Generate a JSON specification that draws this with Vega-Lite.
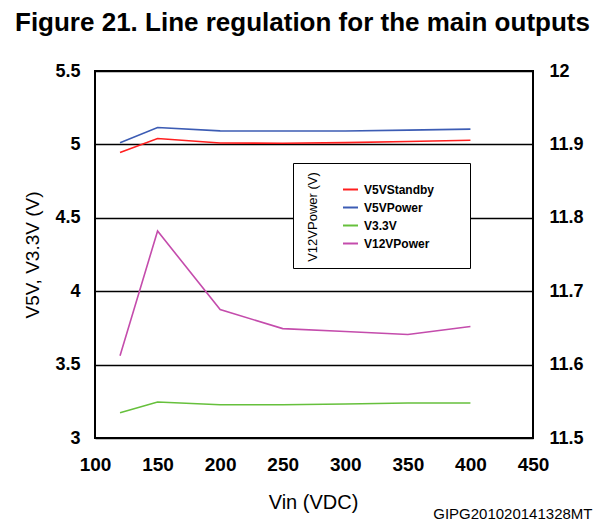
{
  "$schema": "https://vega.github.io/schema/vega-lite/v6.json",
  "width": 438,
  "height": 367,
  "autosize": "none",
  "padding": {"left": 95, "top": 71, "right": 82, "bottom": 94},
  "background": "white",
  "title": {
    "text": "Figure 21. Line regulation for the main outputs",
    "font": "Liberation Sans",
    "fontSize": 26,
    "fontWeight": "bold",
    "color": "black",
    "anchor": "start",
    "frame": "group",
    "baseline": "alphabetic",
    "dx": -80,
    "dy": 23,
    "offset": 28
  },
  "config": {
    "font": "Liberation Sans",
    "view": {"stroke": "black", "strokeWidth": 2},
    "axis": {"labelColor": "black", "titleColor": "black", "labelFont": "Liberation Sans", "titleFont": "Liberation Sans"}
  },
  "data": {
    "values": [
      {"Vin": 120, "series": "V5VStandby", "value": 4.945},
      {"Vin": 150, "series": "V5VStandby", "value": 5.04},
      {"Vin": 200, "series": "V5VStandby", "value": 5.01},
      {"Vin": 250, "series": "V5VStandby", "value": 5.008},
      {"Vin": 300, "series": "V5VStandby", "value": 5.012},
      {"Vin": 350, "series": "V5VStandby", "value": 5.02},
      {"Vin": 400, "series": "V5VStandby", "value": 5.028},
      {"Vin": 120, "series": "V5VPower", "value": 5.012},
      {"Vin": 150, "series": "V5VPower", "value": 5.115},
      {"Vin": 200, "series": "V5VPower", "value": 5.092},
      {"Vin": 250, "series": "V5VPower", "value": 5.091},
      {"Vin": 300, "series": "V5VPower", "value": 5.091},
      {"Vin": 350, "series": "V5VPower", "value": 5.097},
      {"Vin": 400, "series": "V5VPower", "value": 5.104},
      {"Vin": 120, "series": "V3.3V", "value": 3.172},
      {"Vin": 150, "series": "V3.3V", "value": 3.245},
      {"Vin": 200, "series": "V3.3V", "value": 3.227},
      {"Vin": 250, "series": "V3.3V", "value": 3.227},
      {"Vin": 300, "series": "V3.3V", "value": 3.232},
      {"Vin": 350, "series": "V3.3V", "value": 3.238},
      {"Vin": 400, "series": "V3.3V", "value": 3.238},
      {"Vin": 120, "series": "V12VPower", "value": 11.612},
      {"Vin": 150, "series": "V12VPower", "value": 11.782},
      {"Vin": 200, "series": "V12VPower", "value": 11.675},
      {"Vin": 250, "series": "V12VPower", "value": 11.649},
      {"Vin": 300, "series": "V12VPower", "value": 11.645},
      {"Vin": 350, "series": "V12VPower", "value": 11.641},
      {"Vin": 400, "series": "V12VPower", "value": 11.652}
    ]
  },
  "layer": [
    {
      "transform": [{"filter": {"field": "series", "oneOf": ["V5VStandby", "V5VPower", "V3.3V"]}}],
      "mark": {"type": "line", "strokeWidth": 1.6},
      "encoding": {
        "x": {
          "field": "Vin", "type": "quantitative",
          "scale": {"domain": [100, 450], "nice": false, "zero": false},
          "axis": {
            "values": [100, 150, 200, 250, 300, 350, 400, 450],
            "labelFontSize": 19, "labelFontWeight": "bold", "labelPadding": 17,
            "labelFlush": false, "labelOverlap": false,
            "ticks": false, "domain": false, "grid": false,
            "title": "Vin (VDC)", "titleFontSize": 20, "titleFontWeight": "normal",
            "titleX": 218, "titleY": 70, "titleAlign": "center", "titleBaseline": "alphabetic"
          }
        },
        "y": {
          "field": "value", "type": "quantitative",
          "scale": {"domain": [3, 5.5], "nice": false, "zero": false},
          "axis": {
            "values": [3, 3.5, 4, 4.5, 5, 5.5], "format": "~g",
            "grid": true, "gridColor": "black", "gridWidth": 1.5, "gridOpacity": 1,
            "ticks": false, "domain": false,
            "labelFontSize": 18, "labelFontWeight": "bold", "labelPadding": 15,
            "title": "V5V, V3.3V (V)", "titleFontSize": 19, "titleFontWeight": "normal",
            "titleAngle": 270, "titleX": -63, "titleY": 183.5, "titleAlign": "center", "titleBaseline": "middle"
          }
        },
        "color": {
          "field": "series", "type": "nominal",
          "scale": {"domain": ["V5VStandby", "V5VPower", "V3.3V", "V12VPower"], "range": ["#ff1f1f", "#3c5cb4", "#66c03c", "#c44cac"]},
          "legend": {
            "orient": "none", "legendX": 198, "legendY": 92,
            "strokeColor": "black", "fillColor": "white", "padding": 18,
            "title": "\u00a0", "titleOrient": "right", "titlePadding": 18, "titleFontSize": 8,
            "symbolType": "stroke", "symbolSize": 225, "symbolStrokeWidth": 2, "symbolOffset": 31,
            "labelFontSize": 12, "labelFontWeight": "bold", "labelFont": "Liberation Sans", "labelColor": "black",
            "labelOffset": 5, "rowPadding": 3, "zindex": 1
          }
        }
      }
    },
    {
      "transform": [{"filter": {"field": "series", "equal": "V12VPower"}}],
      "mark": {"type": "line", "strokeWidth": 1.6},
      "encoding": {
        "x": {
          "field": "Vin", "type": "quantitative",
          "scale": {"domain": [100, 450], "nice": false, "zero": false},
          "axis": {
            "orient": "bottom", "labels": false, "ticks": false, "domain": false, "grid": false,
            "title": "GIPG201020141328MT", "titleFontSize": 15, "titleFontWeight": "normal",
            "titleX": 497, "titleY": 80, "titleAlign": "right", "titleBaseline": "alphabetic", "titleAngle": 0
          }
        },
        "y": {
          "field": "value", "type": "quantitative",
          "scale": {"domain": [11.5, 12], "nice": false, "zero": false},
          "axis": {
            "orient": "right",
            "values": [11.5, 11.6, 11.7, 11.8, 11.9, 12], "format": "~g",
            "grid": false, "ticks": false, "domain": false,
            "labelFontSize": 18, "labelFontWeight": "bold", "labelPadding": 16,
            "title": "V12VPower (V)", "titleFontSize": 13, "titleFontWeight": "normal",
            "titleAngle": 270, "titleX": -221, "titleY": 145.5, "titleAlign": "center", "titleBaseline": "middle",
            "zindex": 2
          }
        },
        "color": {"field": "series", "type": "nominal"}
      }
    }
  ],
  "resolve": {"scale": {"y": "independent", "x": "independent"}}
}
